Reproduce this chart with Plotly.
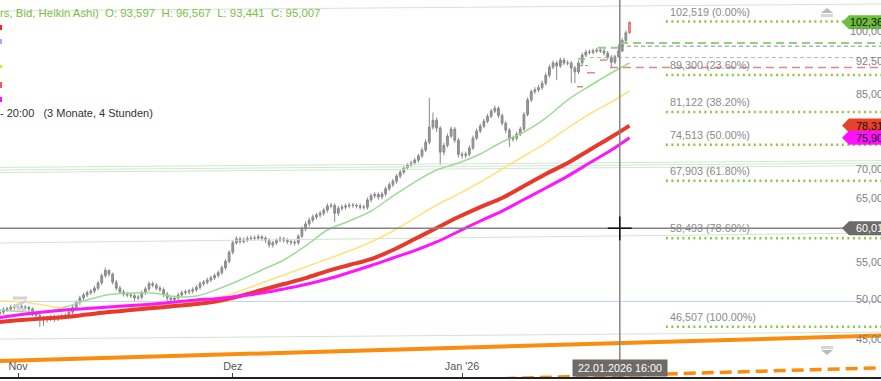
import numpy as np
import pandas as pd
import plotly.graph_objects as go

# ---------------- Heikin-Ashi bars (12h sampling) ----------------
bar_start = "2025-10-29 12:00"
bar_freq = "12h"
ha_open = [
    48.1, 48.3, 48.6, 48.7, 48.9, 49.0, 49.0, 48.9, 48.9, 48.7,
    48.3, 47.9, 47.5, 47.4, 47.5, 47.7, 47.5, 47.7, 47.8, 47.9,
    48.3, 48.9, 49.5, 50.1, 50.5, 50.8, 51.0, 51.4, 52.1, 53.1,
    53.8, 53.3, 52.2, 51.4, 50.9, 50.6, 50.5, 50.4, 50.1, 50.2,
    50.8, 51.3, 52.0, 51.8, 51.4, 51.2, 50.6, 50.1, 49.9, 50.1,
    50.5, 50.8, 50.9, 51.0, 51.2, 51.5, 52.0, 52.2, 52.5, 52.8,
    53.1, 53.5, 54.2, 55.1, 56.4, 57.8, 58.4, 58.0, 58.2, 58.4,
    58.5, 58.5, 58.7, 58.5, 58.2, 57.5, 57.8, 58.2, 58.4, 58.2,
    58.0, 57.9, 57.8, 58.8, 59.9, 60.7, 61.3, 61.8, 62.1, 62.4,
    62.9, 63.6, 63.7, 62.4, 63.2, 63.4, 63.6, 63.7, 63.7, 63.6,
    63.4, 63.4, 64.6, 65.3, 65.5, 65.1, 65.6, 66.5, 67.2, 67.8,
    68.7, 69.4, 70.2, 70.7, 71.1, 71.6, 72.4, 73.5, 75.0, 78.0,
    79.4, 77.8, 73.1, 74.4, 76.2, 77.6, 75.4, 72.7, 72.5, 72.7,
    73.9, 75.8, 77.2, 78.2, 79.2, 80.2, 81.3, 81.9, 80.4, 78.8,
    77.4, 75.6, 75.8, 76.6, 77.6, 80.6, 83.7, 85.5, 85.9, 86.4,
    87.4, 89.2, 91.1, 92.1, 91.4, 92.8, 92.1, 92.1, 90.9, 90.0,
    92.1, 94.0, 94.7, 94.7, 95.0, 95.2, 95.0, 94.5, 93.5, 92.3,
    93.597, 95.0, 97.6, 99.6,
]
ha_high = [
    48.6, 48.9, 49.0, 49.2, 49.3, 49.3, 49.3, 49.2, 49.1, 48.9,
    48.5, 48.1, 47.8, 47.8, 48.0, 48.0, 48.0, 48.1, 48.2, 48.6,
    49.2, 49.8, 50.4, 50.8, 51.1, 51.3, 51.7, 52.4, 53.4, 54.2,
    54.0, 53.5, 52.5, 51.7, 51.2, 50.9, 50.8, 50.7, 50.5, 51.1,
    51.6, 52.3, 52.3, 52.1, 51.7, 51.5, 50.9, 50.4, 50.4, 50.8,
    51.1, 51.2, 51.3, 51.5, 51.8, 52.3, 52.5, 52.8, 53.1, 53.4,
    53.8, 54.5, 55.4, 56.7, 58.2, 58.8, 58.7, 58.6, 58.8, 58.9,
    58.9, 59.1, 59.0, 58.8, 58.5, 58.1, 58.5, 58.8, 58.7, 58.5,
    58.3, 58.2, 59.1, 60.3, 61.1, 61.7, 62.2, 62.5, 62.8, 63.3,
    64.0, 64.1, 64.0, 63.6, 63.8, 64.0, 64.1, 64.1, 64.0, 64.0,
    63.8, 65.0, 65.7, 65.9, 65.9, 66.0, 66.9, 67.6, 68.2, 69.1,
    69.8, 70.6, 71.1, 71.5, 72.0, 72.8, 74.0, 75.6, 84.1, 81.0,
    80.0, 78.2, 74.9, 76.7, 78.1, 78.0, 75.8, 73.2, 73.2, 74.4,
    76.3, 77.7, 78.7, 79.7, 80.7, 81.8, 82.5, 82.3, 80.8, 79.2,
    77.8, 76.3, 77.1, 78.1, 81.1, 84.2, 86.0, 86.5, 87.0, 88.0,
    89.8, 91.7, 92.7, 92.6, 93.4, 93.3, 92.7, 92.6, 91.4, 92.7,
    94.6, 95.3, 95.3, 95.6, 95.8, 95.8, 95.5, 95.0, 94.0, 94.1,
    96.567, 98.2, 100.2, 102.519,
]
ha_low = [
    47.8, 48.0, 48.3, 48.4, 48.6, 48.6, 48.6, 48.5, 48.3, 47.8,
    47.2, 46.5, 46.6, 47.0, 47.2, 47.1, 47.2, 47.4, 47.5, 47.6,
    48.0, 48.6, 49.2, 49.8, 50.2, 50.5, 50.7, 51.1, 51.8, 52.8,
    53.0, 51.9, 51.1, 50.6, 50.3, 50.2, 50.1, 49.7, 49.8, 49.9,
    50.5, 51.0, 51.5, 51.1, 50.9, 50.2, 49.7, 48.7, 49.6, 49.8,
    50.2, 50.5, 50.6, 50.7, 50.9, 51.2, 51.7, 51.9, 52.2, 52.5,
    52.8, 53.2, 53.9, 54.8, 56.1, 57.5, 57.6, 57.7, 57.9, 58.1,
    58.1, 58.2, 58.1, 57.8, 57.1, 57.1, 57.5, 57.9, 57.8, 57.6,
    57.5, 57.4, 57.5, 58.5, 59.6, 60.3, 60.9, 61.4, 61.7, 62.0,
    62.5, 63.2, 61.0, 62.0, 62.8, 63.0, 63.2, 63.3, 63.2, 63.0,
    63.0, 63.0, 64.2, 64.9, 64.6, 64.7, 65.2, 66.1, 66.8, 67.4,
    68.3, 69.0, 69.8, 70.3, 70.7, 71.2, 72.0, 73.1, 74.6, 77.5,
    77.0, 70.7, 72.5, 74.0, 75.8, 74.9, 72.1, 71.9, 72.0, 72.3,
    73.5, 75.4, 76.8, 77.8, 78.8, 79.8, 80.9, 79.9, 78.3, 76.8,
    74.1, 75.1, 75.3, 76.2, 77.2, 80.2, 83.2, 85.0, 85.4, 85.9,
    86.9, 88.7, 90.6, 88.1, 90.9, 91.6, 91.5, 87.4, 87.4, 89.5,
    91.6, 93.5, 94.1, 94.2, 94.5, 94.5, 93.9, 92.9, 91.1, 91.8,
    93.441, 94.7, 97.2, 99.3,
]
ha_close = [
    48.3, 48.6, 48.7, 48.9, 49.0, 49.0, 48.9, 48.9, 48.7, 48.3,
    47.9, 47.5, 47.4, 47.5, 47.7, 47.5, 47.7, 47.8, 47.9, 48.3,
    48.9, 49.5, 50.1, 50.5, 50.8, 51.0, 51.4, 52.1, 53.1, 53.8,
    53.3, 52.2, 51.4, 50.9, 50.6, 50.5, 50.4, 50.1, 50.2, 50.8,
    51.3, 52.0, 51.8, 51.4, 51.2, 50.6, 50.1, 49.9, 50.1, 50.5,
    50.8, 50.9, 51.0, 51.2, 51.5, 52.0, 52.2, 52.5, 52.8, 53.1,
    53.5, 54.2, 55.1, 56.4, 57.8, 58.4, 58.0, 58.2, 58.4, 58.5,
    58.5, 58.7, 58.5, 58.2, 57.5, 57.8, 58.2, 58.4, 58.2, 58.0,
    57.9, 57.8, 58.8, 59.9, 60.7, 61.3, 61.8, 62.1, 62.4, 62.9,
    63.6, 63.7, 62.4, 63.2, 63.4, 63.6, 63.7, 63.7, 63.6, 63.4,
    63.4, 64.6, 65.3, 65.5, 65.1, 65.6, 66.5, 67.2, 67.8, 68.7,
    69.4, 70.2, 70.7, 71.1, 71.6, 72.4, 73.5, 75.0, 78.0, 79.4,
    77.8, 73.1, 74.4, 76.2, 77.6, 75.4, 72.7, 72.5, 72.7, 73.9,
    75.8, 77.2, 78.2, 79.2, 80.2, 81.3, 81.9, 80.4, 78.8, 77.4,
    75.6, 75.8, 76.6, 77.6, 80.6, 83.7, 85.5, 85.9, 86.4, 87.4,
    89.2, 91.1, 92.1, 91.4, 92.8, 92.1, 92.1, 90.9, 90.0, 92.1,
    94.0, 94.7, 94.7, 95.0, 95.2, 95.0, 94.5, 93.5, 92.3, 93.6,
    95.007, 97.6, 99.6, 102.362,
]

# ---------------- moving averages ----------------
ma_dates = [
    "2025-10-29 12:00", "2025-11-01 12:00", "2025-11-04 12:00", "2025-11-07 12:00",
    "2025-11-10 12:00", "2025-11-13 12:00", "2025-11-16 12:00", "2025-11-19 12:00",
    "2025-11-22 12:00", "2025-11-25 12:00", "2025-11-28 12:00", "2025-12-01 12:00",
    "2025-12-04 12:00", "2025-12-07 12:00", "2025-12-10 12:00", "2025-12-13 12:00",
    "2025-12-16 12:00", "2025-12-19 12:00", "2025-12-22 12:00", "2025-12-25 12:00",
    "2025-12-28 12:00", "2025-12-31 12:00", "2026-01-03 12:00", "2026-01-06 12:00",
    "2026-01-09 12:00", "2026-01-12 12:00", "2026-01-15 12:00", "2026-01-18 12:00",
    "2026-01-21 12:00", "2026-01-24 00:00",
]
ma_green = [48.56, 48.37, 48.31, 48.94, 49.84, 50.56, 50.75, 50.75, 50.29, 50.36,
            51.28, 52.49, 53.87, 55.28, 57.32, 59.75, 61.16, 62.76, 65.25, 67.66,
            69.80, 71.07, 72.75, 75.05, 77.01, 79.86, 83.67, 86.77, 89.74, 92.10]
ma_yellow = [49.71, 49.58, 49.19, 48.75, 48.68, 48.81, 48.94, 49.06, 49.26, 49.58,
             50.10, 51.01, 52.08, 53.17, 54.29, 55.42, 56.58, 57.93, 59.60, 61.63,
             63.75, 65.58, 67.66, 69.98, 72.38, 74.85, 77.82, 80.69, 83.25, 85.65]
ma_red = [47.08, 47.32, 47.51, 47.69, 48.00, 48.31, 48.56, 48.81, 49.06, 49.32,
          49.71, 50.36, 51.15, 51.95, 52.76, 53.72, 54.57, 55.42, 56.73, 58.37,
          60.06, 61.79, 63.41, 64.92, 66.96, 69.08, 71.07, 73.51, 76.02, 78.31]
ma_magenta = [47.63, 48.00, 48.31, 48.56, 48.75, 48.94, 49.14, 49.32, 49.58, 49.84,
              50.04, 50.36, 50.75, 51.28, 51.88, 52.62, 53.52, 54.50, 55.57, 56.65,
              57.93, 59.52, 61.16, 62.76, 64.66, 66.62, 68.71, 71.07, 73.51, 75.90]

# ---------------- Fibonacci retracement ----------------
fib_levels = [102.519, 89.300, 81.122, 74.513, 67.903, 58.493, 46.507]
fib_pcts = ["0.00%", "23.60%", "38.20%", "50.00%", "61.80%", "78.60%", "100.00%"]
fib_start = "2026-01-29 00:00"

# ---------------- drawn lines: value at left edge, value at right edge ----------------
thin_green_lines = [
    [105.4, 107.3],
    [70.27, 71.52],
    [69.80, 71.06],
    [69.35, 70.60],
    [57.78, 59.30],
    [45.05, 45.87],
]
blue_level = 49.66
orange_trend = [42.56, 45.45]
orange_trend_dashed = [39.15, 41.82]

# order / stop markers: start, end, price, colour, dash, width
order_lines = [
    ("2026-01-22 16:30", "2026-03-10", 97.0, "#90d07f", "8px,5px", 2),
    ("2026-01-19 16:00", "2026-01-22 12:00", 95.8, "#90d07f", "8px,5px", 2),
    ("2026-01-22 16:30", "2026-03-10", 96.2, "#8a8a8a", "4px,3px", 1),
    ("2026-01-18 13:40", "2026-03-10", 93.4, "#b4b4b4", "4px,3px", 1),
    ("2026-01-21 07:40", "2026-03-10", 91.0, "#e08585", "8px,5px", 1.5),
    ("2026-01-16 22:20", "2026-01-17 21:20", 93.1, "#7cc96b", "solid", 1.5),
    ("2026-01-19 22:40", "2026-01-20 21:40", 92.8, "#e08585", "solid", 1.5),
    ("2026-01-17 04:40", "2026-01-18 13:40", 91.5, "#999999", "3px,2px", 1),
    ("2026-01-18 03:50", "2026-01-19 06:10", 89.8, "#e08585", "solid", 1.5),
    ("2026-01-16 18:50", "2026-01-17 14:40", 86.6, "#e08585", "solid", 1.5),
]

# ---------------- axes ----------------
x_range = ["2025-10-29 12:40", "2026-02-27 13:10"]
y_range = [40.83, 108.42]
x_tick_dates = ["2025-11-01", "2025-11-30 12:00", "2026-01-01"]
x_tick_text = ["Nov", "Dez", "Jan '26"]
y_ticks = [45.0, 50.0, 55.0, 65.0, 70.0, 85.0, 92.5, 100.0]

cross_time = "2026-01-22 16:00"
cross_price = 60.012
cross_label = "22.01.2026 16:00"

callouts = [  # price, box colour, text colour
    (102.362, "#6cc03c", "#111111"),
    (78.312, "#e8412c", "#111111"),
    (75.904, "#ff10ff", "#111111"),
    (cross_price, "#6e6a67", "#ffffff"),
]

ohlc_text = "rs, Bid, Heikin Ashi)\u00a0\u00a0O: 93,597\u00a0\u00a0H: 96,567\u00a0\u00a0L: 93,441\u00a0\u00a0C: 95,007"
period_text = "- 20:00\u00a0\u00a0\u00a0(3 Monate, 4 Stunden)"

# ---------------- figure ----------------
W, H, PH = 881, 381, 377
FONT = "Liberation Sans, Arial, sans-serif"
ylo, yhi = np.log10(y_range[0]), np.log10(y_range[1])


def de(v):
    return f"{v:.3f}".replace(".", ",")


def xp(px):
    return px / W


def yp_val(v):
    return (np.log10(v) - ylo) / (yhi - ylo)


def ypix(py):
    return 1 - py / PH


fig = go.Figure()


def line(xs, ys, color, width, dash="solid", shape="linear"):
    fig.add_trace(go.Scatter(x=xs, y=ys, mode="lines",
                             line=dict(color=color, width=width, dash=dash, shape=shape),
                             hoverinfo="skip", showlegend=False))


for a, b in thin_green_lines:
    line(x_range, [a, b], "#cfe7cf", 1)
line(x_range, [blue_level, blue_level], "#bcd3f2", 1)
line(x_range, orange_trend, "#fb8c0e", 4)
line(x_range, orange_trend_dashed, "#fb8c0e", 3.5, dash="12px,6px")

for lvl in fib_levels:
    line([fib_start, "2026-03-10"], [lvl, lvl], "#8cc63f", 2.5, dash="2px,3.5px")

for s, e, v, c, d, w in order_lines:
    line([s, e], [v, v], c, w, dash=d)

line(ma_dates, ma_green, "#9edb95", 1.5, shape="spline")
line(ma_dates, ma_yellow, "#ffe27a", 1.5, shape="spline")
line(ma_dates, ma_red, "#e8392a", 4, shape="spline")
line(ma_dates, ma_magenta, "#ff14ff", 3, shape="spline")

bar_time = pd.date_range(bar_start, periods=len(ha_close), freq=bar_freq)
n = len(ha_close) - 1
fig.add_trace(go.Candlestick(
    x=bar_time[:n], open=ha_open[:n], high=ha_high[:n], low=ha_low[:n], close=ha_close[:n],
    increasing=dict(fillcolor="#9c9c9c", line=dict(color="#888888", width=1)),
    decreasing=dict(fillcolor="#9c9c9c", line=dict(color="#888888", width=1)),
    hoverinfo="skip", showlegend=False))
fig.add_trace(go.Candlestick(
    x=bar_time[n:], open=ha_open[n:], high=ha_high[n:], low=ha_low[n:], close=ha_close[n:],
    increasing=dict(fillcolor="#ee8d8d", line=dict(color="#e07070", width=1)),
    decreasing=dict(fillcolor="#ee8d8d", line=dict(color="#e07070", width=1)),
    hoverinfo="skip", showlegend=False))

# crosshair
line([cross_time, cross_time], [30, 130], "#858585", 1.5)
line(x_range, [cross_price, cross_price], "#858585", 1.5)
fig.add_trace(go.Scatter(x=[cross_time], y=[cross_price], mode="markers",
                         marker=dict(symbol="cross-thin", size=17,
                                     line=dict(color="#111111", width=1.5)),
                         hoverinfo="skip", showlegend=False))

shapes = []
annotations = []

# right-hand price scale labels
for v in y_ticks:
    annotations.append(dict(x=1, xref="paper", xanchor="right", xshift=10,
                            y=np.log10(v), yref="y", yanchor="middle",
                            text=de(v), showarrow=False,
                            font=dict(family=FONT, size=10.8, color="#808080")))

# fib labels
for lvl, pct in zip(fib_levels, fib_pcts):
    annotations.append(dict(x=fib_start, xref="x", xanchor="left", xshift=2,
                            y=np.log10(lvl), yref="y", yanchor="middle", yshift=10,
                            text=f"{de(lvl)} ({pct})", showarrow=False,
                            font=dict(family=FONT, size=10.8, color="#8a8a8a")))

# price callouts (pentagon boxes)
hh = 7 / PH
for v, bg, fg in callouts:
    yc = yp_val(v)
    path = (f"M {xp(842)},{yc} L {xp(849)},{yc + hh} L {xp(895)},{yc + hh} "
            f"L {xp(895)},{yc - hh} L {xp(849)},{yc - hh} Z")
    shapes.append(dict(type="path", xref="paper", yref="paper", path=path,
                       fillcolor=bg, line=dict(width=0), layer="above"))
    annotations.append(dict(x=1, xref="paper", xanchor="right", xshift=10,
                            y=np.log10(v), yref="y", yanchor="middle",
                            text=de(v), showarrow=False,
                            font=dict(family=FONT, size=10.8, color=fg)))

# crosshair date label
annotations.append(dict(x=cross_time, xref="x", xanchor="center",
                        y=0, yref="paper", yanchor="bottom",
                        text="\u00a0" + cross_label + "\u00a0", showarrow=False,
                        bgcolor="#6e6a67", borderpad=2,
                        font=dict(family=FONT, size=10.8, color="#ffffff")))

# header texts
annotations.append(dict(x=0, xref="paper", xanchor="left", xshift=-2,
                        y=ypix(13), yref="paper", yanchor="middle",
                        text=ohlc_text, showarrow=False,
                        font=dict(family=FONT, size=11.4, color="#78c043")))
annotations.append(dict(x=0, xref="paper", xanchor="left", xshift=-2,
                        y=ypix(113), yref="paper", yanchor="middle",
                        text=period_text, showarrow=False,
                        font=dict(family=FONT, size=11, color="#333333")))

# clipped legend colour swatches at the left edge
for y0, y1, c in [(25, 30, "#ff2020"), (39, 44, "#c49cff"), (65, 68, "#ffd21f"),
                  (82, 88, "#f05a5a"), (97, 102, "#ff10ff")]:
    shapes.append(dict(type="rect", xref="paper", yref="paper",
                       x0=0, x1=xp(2), y0=ypix(y1), y1=ypix(y0),
                       fillcolor=c, line=dict(width=0), layer="above"))

# scroll arrows
shapes.append(dict(type="path", xref="paper", yref="paper",
                   path=f"M {xp(827)},{ypix(8)} L {xp(833)},{ypix(13)} L {xp(821)},{ypix(13)} Z",
                   fillcolor="#b9b9b9", line=dict(width=0), layer="above"))
shapes.append(dict(type="rect", xref="paper", yref="paper",
                   x0=xp(821), x1=xp(833), y0=ypix(17), y1=ypix(14),
                   fillcolor="#d6d6d6", line=dict(width=0), layer="above"))
shapes.append(dict(type="rect", xref="paper", yref="paper",
                   x0=xp(821), x1=xp(833), y0=ypix(349), y1=ypix(346),
                   fillcolor="#d6d6d6", line=dict(width=0), layer="above"))
shapes.append(dict(type="path", xref="paper", yref="paper",
                   path=f"M {xp(821)},{ypix(350)} L {xp(833)},{ypix(350)} L {xp(827)},{ypix(355)} Z",
                   fillcolor="#b9b9b9", line=dict(width=0), layer="above"))
# scroll-left icon
shapes.append(dict(type="path", xref="paper", yref="paper",
                   path=(f"M {xp(13)},{ypix(298)} L {xp(27)},{ypix(298)} "
                         f"M {xp(26)},{ypix(301)} L {xp(15)},{ypix(306)} L {xp(26)},{ypix(311)}"),
                   line=dict(color="#d2d2d2", width=3), layer="above"))

fig.update_layout(
    width=W, height=H,
    margin=dict(l=0, r=0, t=0, b=4, autoexpand=False),
    paper_bgcolor="white", plot_bgcolor="white",
    showlegend=False, hovermode=False,
    font=dict(family=FONT, size=10.8, color="#808080"),
    shapes=shapes, annotations=annotations,
    xaxis=dict(type="date", range=x_range, tickvals=x_tick_dates, ticktext=x_tick_text,
               ticks="inside", ticklen=4, tickcolor="#444444", tickwidth=1,
               ticklabelposition="inside", tickfont=dict(family=FONT, size=10.8, color="#555555"),
               showline=True, linecolor="#222222", linewidth=1.5,
               showgrid=False, zeroline=False, rangeslider=dict(visible=False)),
    yaxis=dict(type="log", range=[ylo, yhi], showticklabels=False, ticks="",
               showgrid=False, zeroline=False, showline=False),
)

fig.write_html("out.html", config={"displayModeBar": False},
               post_script="document.body.style.margin='0';document.body.style.overflow='hidden';")
